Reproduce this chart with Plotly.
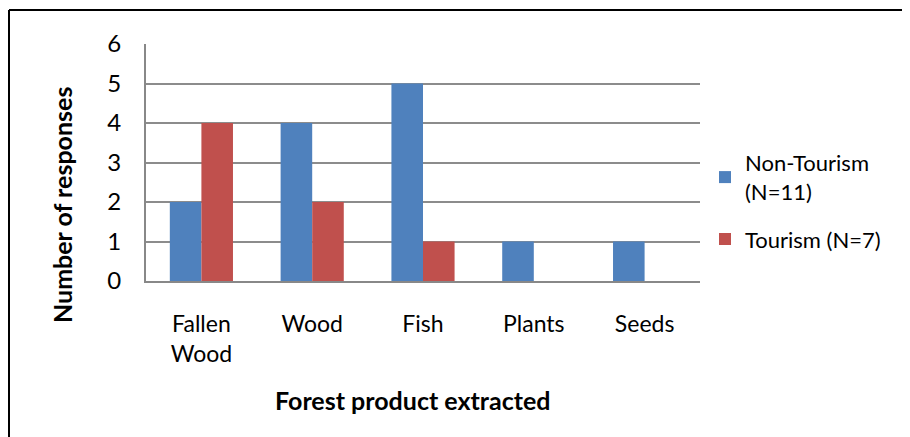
import plotly.graph_objects as go

categories = ["Fallen<br>Wood", "Wood", "Fish", "Plants", "Seeds"]
non_tourism = [2, 4, 5, 1, 1]
tourism = [4, 2, 1, 0, 0]
series_names = ["Non-Tourism<br>(N=11)", "Tourism (N=7)"]
y_ticks = [0, 1, 2, 3, 4, 5, 6]
x_title = "Forest product extracted"
y_title = "Number of responses"

FONT = "Lato"
OFF = 8  # browser default body margin
W, H = 910, 437
L, T = 146 - OFF, 44 - OFF
pw, ph = 554, 237
R, B = W - L - pw, H - T - ph

def px_to_paper_x(px):
    return (px - OFF - L) / pw

def px_to_paper_y(py):
    return (T + ph - (py - OFF)) / ph

fig = go.Figure()
fig.add_trace(go.Bar(x=categories, y=non_tourism, name=series_names[0], legendgroup="a",
                     marker=dict(color="#4F81BD", line=dict(width=0))))
fig.add_trace(go.Bar(x=categories, y=tourism, name=series_names[1], legendgroup="b",
                     marker=dict(color="#C0504D", line=dict(width=0))))

fig.update_layout(
    width=W, height=H,
    margin=dict(l=L, r=R, t=T, b=B, autoexpand=False),
    paper_bgcolor="white", plot_bgcolor="white",
    barmode="group", bargap=0.43, bargroupgap=0,
    font=dict(family=FONT, size=24, color="black"),
    showlegend=True,
    legend=dict(x=px_to_paper_x(705), y=px_to_paper_y(142), xanchor="left", yanchor="top",
                font=dict(size=22), tracegroupgap=16, itemsizing="constant",
                bgcolor="rgba(0,0,0,0)"),
    xaxis=dict(showgrid=False, showline=True, linecolor="#888888", linewidth=2,
               ticks="", ticklabelstandoff=21, tickfont=dict(size=23)),
    yaxis=dict(range=[0, 6], tickvals=y_ticks, showgrid=True, gridcolor="#8c8c8c", gridwidth=1.5,
               showline=True, linecolor="#888888", linewidth=2, ticks="", ticklabelstandoff=18,
               tickfont=dict(size=24), zeroline=False),
)

fig.add_annotation(text="<b>" + x_title + "</b>", xref="paper", yref="paper",
                   x=px_to_paper_x(412), y=px_to_paper_y(400), showarrow=False,
                   xanchor="center", yanchor="middle", font=dict(size=25))
fig.add_annotation(text="<b>" + y_title + "</b>", xref="paper", yref="paper",
                   x=px_to_paper_x(62), y=px_to_paper_y(205), showarrow=False, textangle=-90,
                   xanchor="center", yanchor="middle", font=dict(size=25))

# outer chart border (left and top edges visible)
fig.add_shape(type="line", xref="paper", yref="paper",
              x0=px_to_paper_x(9), x1=px_to_paper_x(9), y0=px_to_paper_y(10), y1=px_to_paper_y(450),
              line=dict(color="black", width=2))
fig.add_shape(type="line", xref="paper", yref="paper",
              x0=px_to_paper_x(9), x1=px_to_paper_x(930), y0=px_to_paper_y(10), y1=px_to_paper_y(10),
              line=dict(color="black", width=2))

fig.write_html("out.html")
